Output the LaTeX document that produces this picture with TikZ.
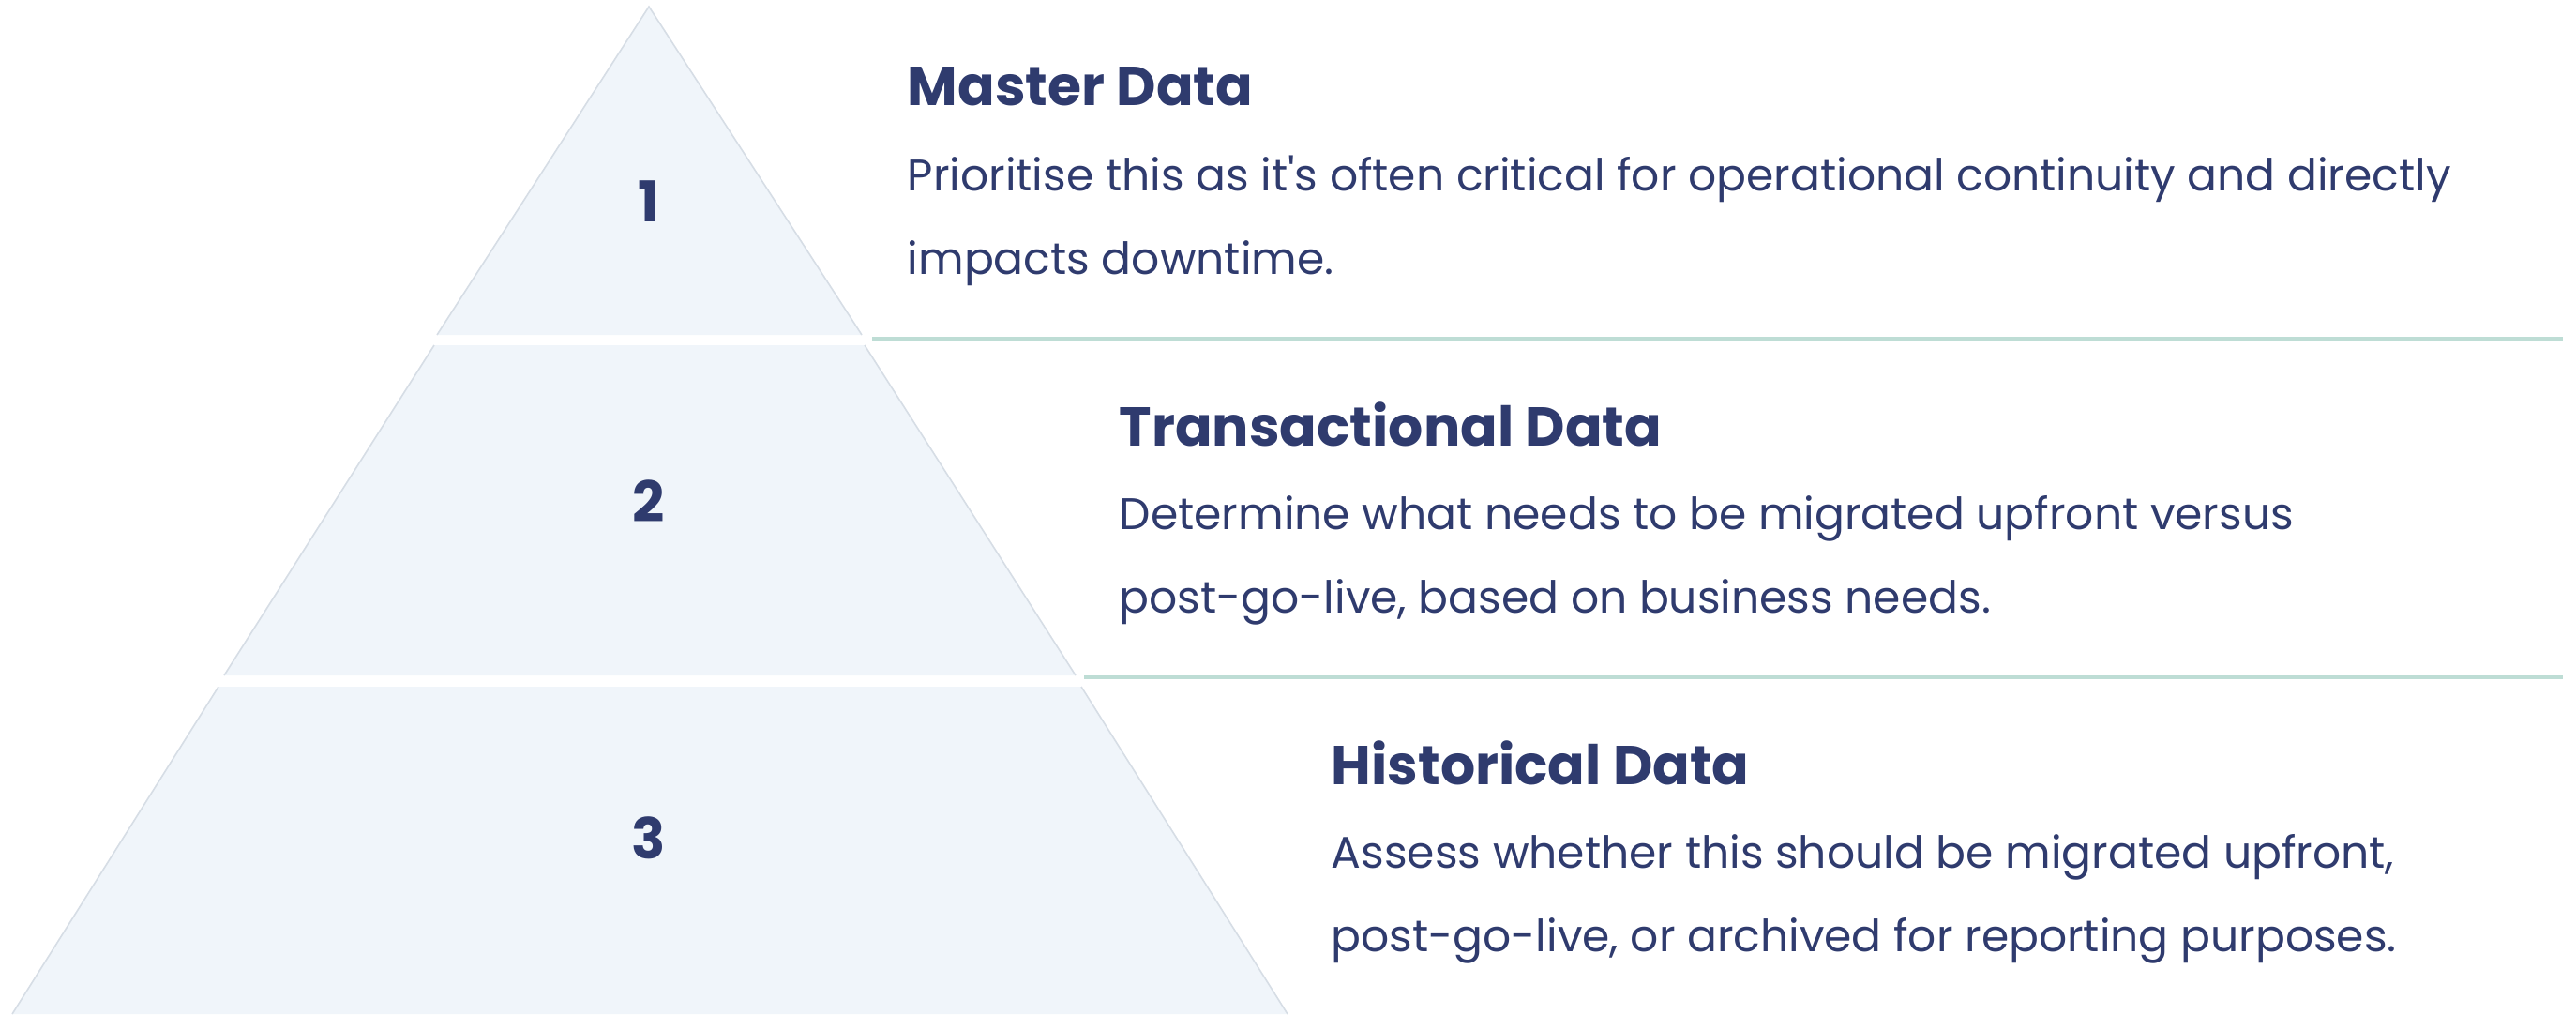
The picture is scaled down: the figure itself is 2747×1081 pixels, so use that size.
\documentclass[tikz,border=0pt]{standalone}
\usepackage{fontspec}
\setmainfont{Poppins}
\usetikzlibrary{calc}
\definecolor{navy}{HTML}{2F3B6E}
\definecolor{tierfill}{HTML}{F0F5FA}
\definecolor{tieredge}{HTML}{D6DDE5}
\definecolor{ruleline}{HTML}{BEDDD5}

\begin{document}
\begin{tikzpicture}[x=0.25pt,y=-0.25pt,
    tier/.style={fill=tierfill},
    tierside/.style={draw=tieredge,line width=0.4pt},
    tiernum/.style={text=navy,inner sep=0pt,font=\bfseries\fontsize{15}{18}\selectfont},
    heading/.style={anchor=base west,inner sep=0pt,text=navy,font=\bfseries\fontsize{14.6}{18}\selectfont},
    desc/.style={anchor=base west,inner sep=0pt,text=navy,font=\fontsize{11.8}{14}\selectfont},
    divider/.style={draw=ruleline,line width=1.2pt},]
    \useasboundingbox (0,0) rectangle (2747,1081);

    % pyramid tiers
    \coordinate (apex) at (692,7);
    \coordinate (t1l) at (466,357);  \coordinate (t1r) at (919,357);
    \coordinate (t2a) at (463,368);  \coordinate (t2b) at (922,368);
    \coordinate (t2l) at (239,720);  \coordinate (t2r) at (1147,720);
    \coordinate (t3a) at (233,732);  \coordinate (t3b) at (1153,732);
    \coordinate (t3l) at (13,1081);  \coordinate (t3r) at (1373,1081);
    \fill[tier] (apex) -- (t1r) -- (t1l) -- cycle;
    \fill[tier] (t2a) -- (t2b) -- (t2r) -- (t2l) -- cycle;
    \fill[tier] (t3a) -- (t3b) -- (t3r) -- (t3l) -- cycle;
    \draw[tierside] (t1l) -- (apex) -- (t1r);
    \draw[tierside] (t2l) -- (t2a) (t2b) -- (t2r);
    \draw[tierside] (t3l) -- (t3a) (t3b) -- (t3r);

    \node[tiernum] at (692,215) (num1) {1};
    \node[tiernum] at (692,534) (num2) {2};
    \node[tiernum] at (692,893) (num3) {3};

    % labels, one node per printed line
    \node[heading] at (967,112) (master) {Master Data};
    \node[desc] at (967,203) (masterdesca) {Prioritise this as it\textquotesingle s often critical for operational continuity and directly};
    \node[desc] at (967,292) (masterdescb) {impacts downtime.};
    \node[heading] at (1193,475) (trans) {Transactional Data};
    \node[desc] at (1193,564) (transdesca) {Determine what needs to be migrated upfront versus};
    \node[desc] at (1193,653) (transdescb) {post-go-live, based on business needs.};
    \node[heading] at (1419,836) (hist) {Historical Data};
    \node[desc] at (1419,925) (histdesca) {Assess whether this should be migrated upfront,};
    \node[desc] at (1419,1014) (histdescb) {post-go-live, or archived for reporting purposes.};

    % dividers
    \coordinate (d1a) at (930,361);  \coordinate (d1b) at (2733,361);
    \coordinate (d2a) at (1156,722); \coordinate (d2b) at (2733,722);
    \draw[divider] (d1a) -- (d1b);
    \draw[divider] (d2a) -- (d2b);
\end{tikzpicture}
\end{document}
